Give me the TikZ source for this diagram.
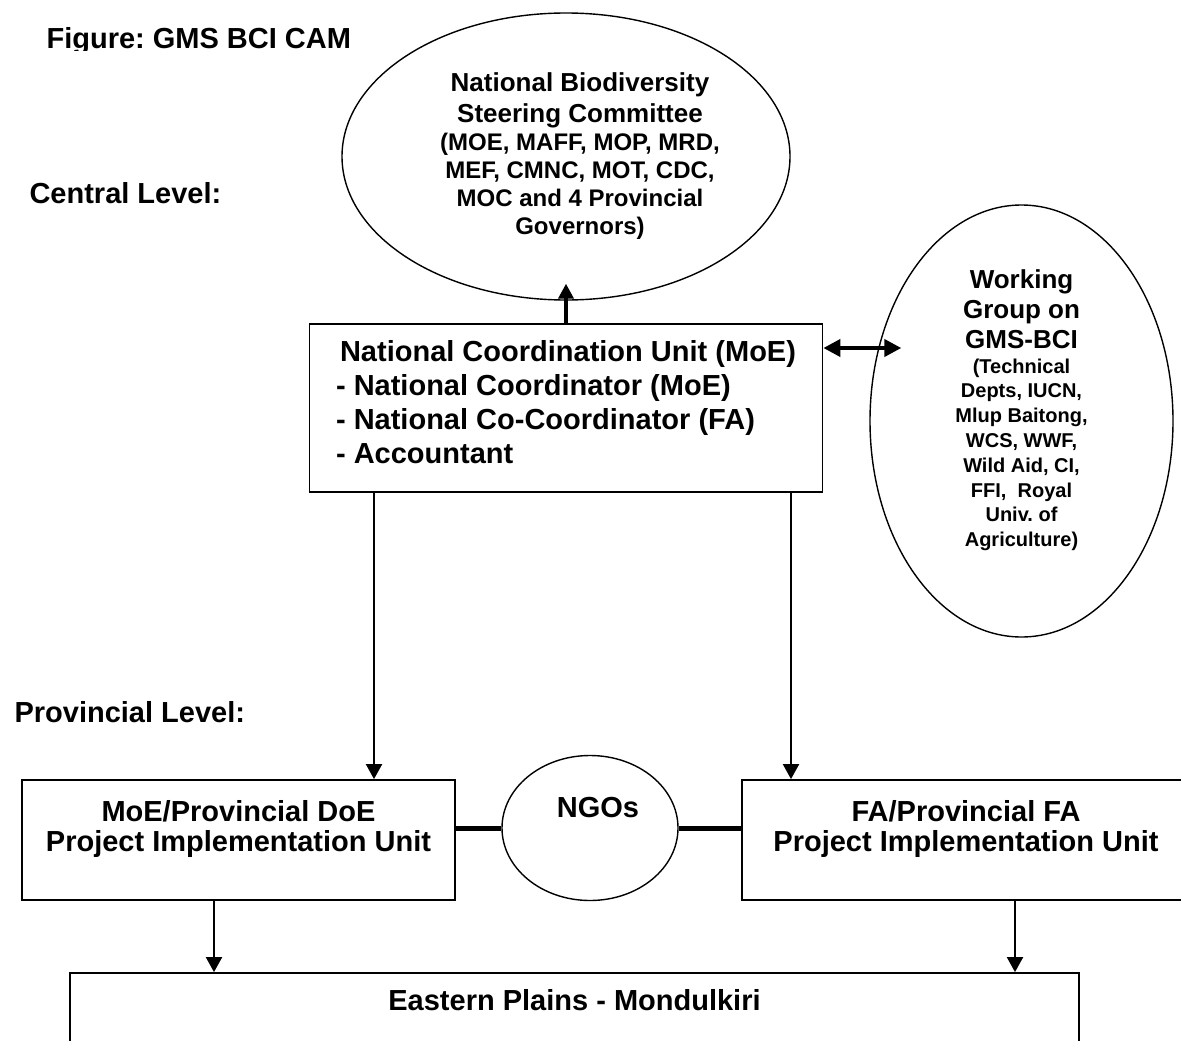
\documentclass[tikz,border=0pt]{standalone}
\usepackage{fontspec}
\setmainfont{Liberation Sans}
\usetikzlibrary{arrows.meta,shapes.geometric}
\newcommand\bigline[1]{{\fontsize{26}{30}\selectfont #1}}
\frenchspacing
\begin{document}
\begin{tikzpicture}[
    x=1pt, y=-1pt,
    font=\bfseries\fontsize{29}{30}\selectfont,
    box/.style={draw, line width=1.8pt, inner sep=0pt, align=center},
    oval/.style={draw, ellipse, line width=1.4pt, inner sep=0pt, align=center},
    link/.style={-{Triangle[length=15pt,width=16pt]}, line width=2pt},
    boldlink/.style={-{Triangle[length=15pt,width=15pt]}, line width=4pt},
    twoway/.style={{Triangle[length=17pt,width=17pt]}-{Triangle[length=17pt,width=17pt]}, line width=4pt},
    bar/.style={line width=5pt}
]
\clip (0,0) rectangle (1181,1041);
\begin{scope}
  \clip (0,0) rectangle (400,51);
  \node[anchor=base west] (title) at (43,49) {Figure: GMS BCI CAM};
\end{scope}
\node[anchor=base west] (central) at (26,203) {Central Level:};
\node[anchor=base west] (provincial) at (11,722) {Provincial Level:};

\node[oval, minimum width=448pt, minimum height=287pt,
      label={[align=center, inner sep=0pt, xshift=14pt, font=\bfseries\fontsize{24}{28}\selectfont]center:%
        {\bigline{National Biodiversity}\\[3pt] \bigline{Steering Committee}\\
         (MOE, MAFF, MOP, MRD,\\ MEF, CMNC, MOT, CDC,\\ MOC and 4 Provincial\\ Governors)}}]
  (nbsc) at (566,156.5) {};
\node[box, minimum width=513pt, minimum height=168pt, align=left, text depth=12pt,
      font=\bfseries\fontsize{29}{33.7}\selectfont] (ncu) at (566,408)
  {\hspace*{4pt}National Coordination Unit (MoE)\\ - National Coordinator (MoE)\\
   - National Co-Coordinator (FA)\\ - Accountant};
\node[oval, minimum width=303pt, minimum height=432pt, text depth=26pt,
      font=\bfseries\fontsize{20}{24.8}\selectfont] (wg) at (1021.5,421)
  {\bigline{Working}\\[5.2pt] \bigline{Group on}\\[5.2pt] \bigline{GMS-BCI}\\
   (Technical\\ Depts, IUCN,\\ Mlup Baitong,\\ WCS, WWF,\\ Wild Aid, CI,\\
   FFI, \ Royal\\ Univ. of\\ Agriculture)};

\node[box, minimum width=433pt, minimum height=120pt, text depth=29pt] (moepiu) at (238.5,840)
  {MoE/Provincial DoE\\ Project Implementation Unit};
\node[oval, minimum width=176pt, minimum height=145pt, text depth=41pt] (ngo) at (590,828)
  {\hspace*{16pt}NGOs};
\node[box, minimum width=448pt, minimum height=120pt, text depth=29pt] (fapiu) at (966,840)
  {FA/Provincial FA\\ Project Implementation Unit};
\node[box, minimum width=1009pt, minimum height=100pt, text depth=47pt] (plains) at (574.5,1023)
  {Eastern Plains - Mondulkiri};

\draw[boldlink, shorten >=-17pt] (ncu.north) -- (nbsc.south);
\draw[twoway, shorten >=-32pt] ([yshift=60pt]ncu.east) -- ([yshift=60pt]ncu.east -| wg.west);
\draw[link] ([xshift=-192pt]ncu.south) -- ([xshift=-192pt]ncu.south |- moepiu.north);
\draw[link] ([xshift=225pt]ncu.south) -- ([xshift=225pt]ncu.south |- fapiu.north);
\draw[bar] (ngo.west -| moepiu.east) -- (ngo.west);
\draw[bar] (ngo.east) -- (ngo.east -| fapiu.west);
\draw[link] ([xshift=-24.5pt]moepiu.south) -- ([xshift=-24.5pt]moepiu.south |- plains.north);
\draw[link] ([xshift=49pt]fapiu.south) -- ([xshift=49pt]fapiu.south |- plains.north);
\end{tikzpicture}
\end{document}
